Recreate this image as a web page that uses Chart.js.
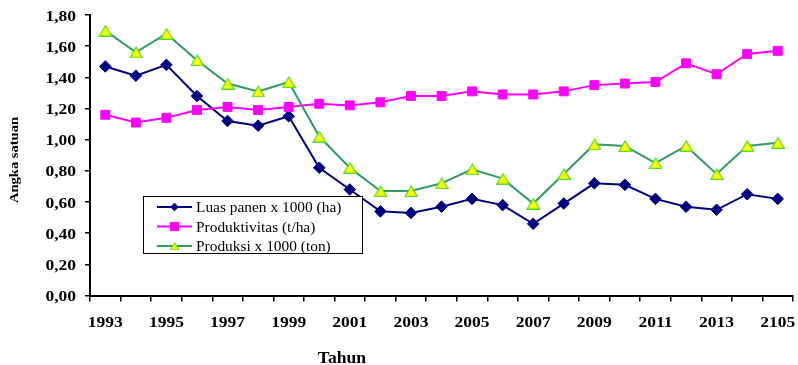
<!DOCTYPE html>
<html>
<head>
<meta charset="utf-8">
<script src="https://cdn.jsdelivr.net/npm/chart.js@4.4.1/dist/chart.umd.min.js"></script>
<style>
  html, body { margin: 0; padding: 0; background: #fff; }
  canvas { display: block; }
</style>
</head>
<body>
<canvas id="c" width="798" height="365"></canvas>
<script>
// Years on the category axis
const years = [1993, 1994, 1995, 1996, 1997, 1998, 1999, 2000, 2001, 2002, 2003, 2004,
               2005, 2006, 2007, 2008, 2009, 2010, 2011, 2012, 2013, 2014, 2015];
// Labels printed under the axis (every second year)
const tickLabels = ['1993', '', '1995', '', '1997', '', '1999', '', '2001', '', '2003', '',
                    '2005', '', '2007', '', '2009', '', '2011', '', '2013', '', '2105'];
// Series
const luasPanen = [1.47, 1.41, 1.48, 1.28, 1.12, 1.09, 1.15, 0.82, 0.68, 0.54, 0.53, 0.57,
                   0.62, 0.58, 0.46, 0.59, 0.72, 0.71, 0.62, 0.57, 0.55, 0.65, 0.62];
const produktivitas = [1.16, 1.11, 1.14, 1.19, 1.21, 1.19, 1.21, 1.23, 1.22, 1.24, 1.28, 1.28,
                       1.31, 1.29, 1.29, 1.31, 1.35, 1.36, 1.37, 1.49, 1.42, 1.55, 1.57];
const produksi = [1.70, 1.56, 1.68, 1.51, 1.36, 1.31, 1.37, 1.02, 0.82, 0.67, 0.67, 0.72,
                  0.81, 0.75, 0.59, 0.78, 0.97, 0.96, 0.85, 0.96, 0.78, 0.96, 0.98];
const seriesNames = ['Luas panen x 1000 (ha)', 'Produktivitas (t/ha)', 'Produksi x 1000 (ton)'];
const yTitle = 'Angka satuan';
const xTitle = 'Tahun';

const SERIF = '"Liberation Serif", "Times New Roman", serif';

// Triangle marker centred on its bounding box (so the line runs through its middle)
function triangleSprite(w, h, fill, stroke, lw) {
  const pad = 1;
  const cv = document.createElement('canvas');
  cv.width = w + 2 * pad;
  cv.height = h + 2 * pad;
  const g = cv.getContext('2d');
  g.beginPath();
  g.moveTo(pad + w / 2, pad);
  g.lineTo(pad + w, pad + h);
  g.lineTo(pad, pad + h);
  g.closePath();
  g.fillStyle = fill;
  g.fill();
  g.strokeStyle = stroke;
  g.lineWidth = lw;
  g.stroke();
  return cv;
}
const triMark = triangleSprite(12.5, 10.5, '#FFFF00', '#55DD22', 1.3);

// Draw text widened horizontally around an anchor point
function wideText(ctx, str, x, y, sx, align, rot) {
  ctx.save();
  ctx.translate(x, y);
  if (rot) ctx.rotate(rot);
  ctx.scale(sx, 1);
  ctx.textAlign = align;
  ctx.fillText(str, 0, 0);
  ctx.restore();
}

function marker(ctx, style, x, y, r) {
  if (style instanceof HTMLCanvasElement) {
    const w = r * 2, h = w * style.height / style.width;
    ctx.drawImage(style, x - w / 2, y - h / 2, w, h);
    return;
  }
  ctx.beginPath();
  if (style === 'rectRot') {
    ctx.moveTo(x, y - r); ctx.lineTo(x + r, y); ctx.lineTo(x, y + r); ctx.lineTo(x - r, y);
  } else {
    const h = r * Math.SQRT1_2;
    ctx.rect(x - h, y - h, 2 * h, 2 * h);
  }
  ctx.closePath();
  ctx.fill();
  ctx.stroke();
}

const fmt = v => v.toFixed(2).replace('.', ',');

const textPlugin = {
  id: 'serifText',
  afterDraw(chart) {
    const ctx = chart.ctx;
    const xs = chart.scales.x, ys = chart.scales.y;
    ctx.save();
    ctx.fillStyle = '#000';
    ctx.textBaseline = 'alphabetic';

    // value ticks
    ctx.font = 'bold 14px ' + SERIF;
    ys.ticks.forEach((t, i) => {
      wideText(ctx, fmt(t.value), xs.left - 14, ys.getPixelForTick(i) + 5.5, 1.25, 'right');
    });
    // year ticks
    xs.ticks.forEach((t, i) => {
      const lab = tickLabels[t.value];
      if (lab) wideText(ctx, lab, xs.getPixelForTick(i), ys.bottom + 31, 1.25, 'center');
    });

    // axis titles
    ctx.font = 'bold 13px ' + SERIF;
    ctx.textBaseline = 'middle';
    wideText(ctx, yTitle, 15, 160, 1.12, 'center', -Math.PI / 2);
    ctx.textBaseline = 'alphabetic';
    ctx.font = 'bold 16px ' + SERIF;
    wideText(ctx, xTitle, 342, 363, 1.1, 'center');

    // legend box
    const bx = 143.5, by = 196.5, bw = 219, bh = 57;
    ctx.fillStyle = '#fff';
    ctx.fillRect(bx, by, bw, bh);
    ctx.strokeStyle = '#000';
    ctx.lineWidth = 1;
    ctx.strokeRect(bx, by, bw, bh);
    const legendR = [3.8, 5.8, 4.8];
    chart.data.datasets.forEach((ds, i) => {
      const ry = 207 + i * 19.5;
      ctx.strokeStyle = ds.borderColor;
      ctx.lineWidth = 2;
      ctx.beginPath();
      ctx.moveTo(157, ry); ctx.lineTo(192, ry);
      ctx.stroke();
      ctx.fillStyle = ds.pointBackgroundColor;
      ctx.strokeStyle = ds.pointBorderColor;
      ctx.lineWidth = 1;
      marker(ctx, ds.pointStyle, 174.5, ry, legendR[i]);
      ctx.fillStyle = '#000';
      ctx.font = '14px ' + SERIF;
      wideText(ctx, ds.label, 196, ry + 5, 1.1, 'left');
    });
    ctx.restore();
  }
};

const axisGrid = (len) => ({
  drawOnChartArea: false,
  drawTicks: true,
  tickLength: len,
  color: '#000',
  lineWidth: 1.5
});

new Chart(document.getElementById('c'), {
  type: 'line',
  data: {
    labels: years,
    datasets: [
      {
        label: seriesNames[0],
        data: luasPanen,
        borderColor: '#000080',
        backgroundColor: '#000080',
        pointBackgroundColor: '#000080',
        pointBorderColor: '#000080',
        pointStyle: 'rectRot',
        pointRadius: 5.8,
        pointBorderWidth: 1,
        borderWidth: 2,
        order: 3
      },
      {
        label: seriesNames[1],
        data: produktivitas,
        borderColor: '#FF00FF',
        backgroundColor: '#FF00FF',
        pointBackgroundColor: '#FF00FF',
        pointBorderColor: '#FF00FF',
        pointStyle: 'rect',
        pointRadius: 6.3,
        pointBorderWidth: 1,
        borderWidth: 2,
        order: 2
      },
      {
        label: seriesNames[2],
        data: produksi,
        borderColor: '#339966',
        backgroundColor: '#FFFF00',
        pointBackgroundColor: '#FFFF00',
        pointBorderColor: '#55DD22',
        pointStyle: triMark,
        pointRadius: 7,
        borderWidth: 2,
        order: 1
      }
    ]
  },
  options: {
    responsive: false,
    animation: false,
    layout: { autoPadding: false, padding: { top: 15, right: 5, left: 0, bottom: 0 } },
    plugins: { legend: { display: false }, tooltip: { enabled: false } },
    elements: { line: { tension: 0 } },
    scales: {
      x: {
        type: 'category',
        offset: true,
        grid: Object.assign(axisGrid(6), { offset: true }),
        border: { color: '#000', width: 2 },
        ticks: { display: false, autoSkip: false },
        afterFit(s) { s.height = 69.5; }
      },
      y: {
        min: 0,
        max: 1.8,
        grid: axisGrid(5),
        border: { color: '#000', width: 2 },
        ticks: { display: false, stepSize: 0.2 },
        afterFit(s) { s.width = 90; }
      }
    }
  },
  plugins: [textPlugin]
});
</script>
</body>
</html>
